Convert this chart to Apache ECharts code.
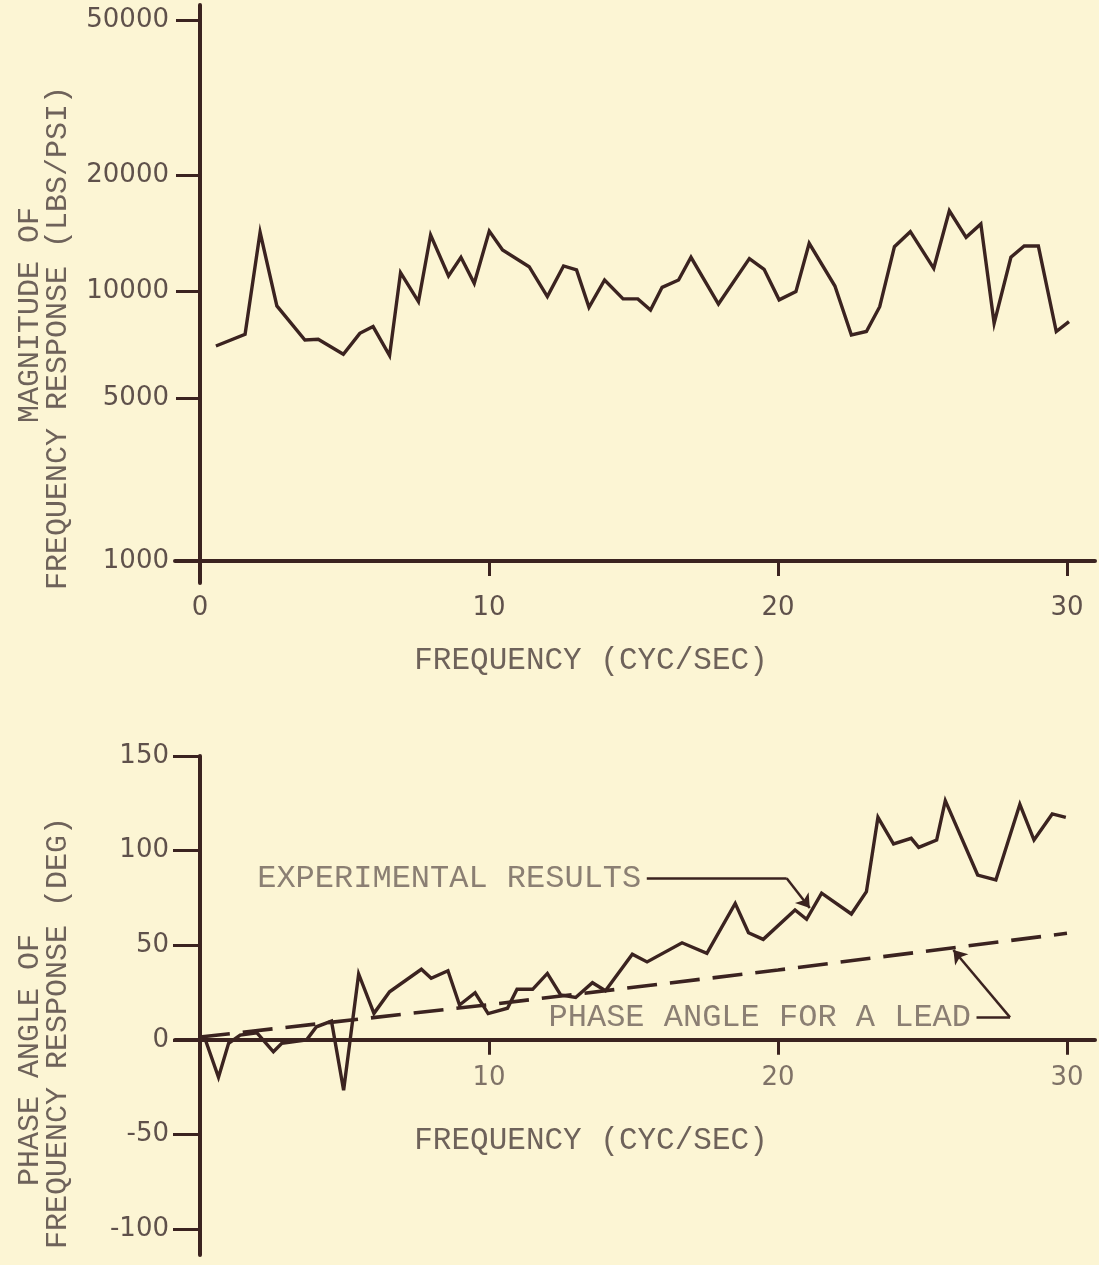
<!DOCTYPE html>
<html>
<head>
<meta charset="utf-8">
<script src="https://cdn.jsdelivr.net/npm/echarts@6/dist/echarts.min.js"></script>
<style>
  html, body { margin: 0; padding: 0; background: #fcf5d4; }
  #chart { width: 1099px; height: 1265px; }
</style>
</head>
<body>
<div id="chart"></div>
<script>
// ---------- DATA ----------
// Magnitude of frequency response (LBS/PSI) vs frequency (CYC/SEC)
const MAG_FREQ = [0.55, 1.56, 2.08, 2.66, 3.63, 4.09, 4.96, 5.53, 5.99, 6.56, 6.94, 7.56, 7.98, 8.6, 9.03, 9.49,
  10.01, 10.47, 11.39, 12.02, 12.58, 13.03, 13.46, 14.0, 14.64, 15.15, 15.59, 15.99, 16.56, 16.99, 17.94,
  19.01, 19.52, 20.04, 20.62, 21.08, 21.97, 22.54, 23.06, 23.52, 24.03, 24.58, 25.39, 25.93, 26.51, 27.02,
  27.48, 28.06, 28.52, 29.01, 29.63, 30.07];
const MAG_VALUES = [7000, 7550, 14200, 9080, 7280, 7310, 6640, 7600, 7940, 6580, 11160, 9330, 13970, 10940, 12230, 10470,
  14300, 12780, 11560, 9640, 11610, 11340, 9000, 10680, 9500, 9500, 8840, 10220, 10680, 12230, 9190,
  12130, 11380, 9440, 9960, 13300, 10300, 7520, 7690, 9030, 13030, 14250, 11450, 16150, 13780, 14930,
  8110, 12230, 13080, 13080, 7690, 8200];

// Phase angle of frequency response (DEG) — experimental results
const PHASE_FREQ = [0.18, 0.64, 0.99, 1.39, 1.97, 2.54, 2.83, 3.69, 4.03, 4.55, 4.97, 5.49, 6.02, 6.56, 7.66, 8.0,
  8.58, 8.98, 9.52, 9.97, 10.64, 10.97, 11.51, 12.02, 12.48, 13.0, 13.58, 14.03, 14.96, 15.47, 16.68, 17.54,
  18.52, 18.98, 19.49, 20.59, 20.99, 21.51, 22.54, 23.06, 23.46, 24.0, 24.61, 24.87, 25.49, 25.79, 26.91,
  27.54, 28.37, 28.86, 29.49, 29.96];
const PHASE_VALUES = [0.3, -19.8, -1.8, 2.5, 3.7, -6.3, -1.8, 0, 6.9, 9.9, -26.6, 34.8, 14.0, 25.4, 37.3, 32.5,
  36.5, 18.4, 24.9, 13.9, 16.7, 26.7, 26.7, 35.1, 23.7, 22.4, 30.2, 26.0, 45.3, 41.2, 51.3, 45.7,
  72.1, 56.6, 53.1, 68.6, 63.7, 77.5, 66.5, 78.3, 117.6, 103.5, 106.5, 101.7, 105.6, 126.4, 87.1,
  84.5, 124.5, 105.6, 119.4, 117.6];

// Phase angle for a lead (dashed)
const LEAD_FREQ = [0, 10, 20, 30];
const LEAD_VALUES = [1.5, 18.6, 36.9, 56.3];

// Tick labels
const FREQ_TICKS_TOP = [0, 10, 20, 30];
const FREQ_TICKS_BOTTOM = [10, 20, 30];
const MAG_TICKS = [1000, 5000, 10000, 20000, 50000];
const PHASE_TICKS = [-100, -50, 0, 50, 100, 150];

// Annotations (in axis units of the phase chart)
const EXP_LABEL = 'EXPERIMENTAL RESULTS';
const LEAD_LABEL = 'PHASE ANGLE FOR A LEAD';
const EXP_LEADER = [[15.46, 85.4], [20.3, 85.4], [21.1, 69.7]];
const LEAD_LEADER = [[26.87, 11.9], [28.03, 11.9], [26.07, 47.5]];

// ---------- Hand-drawn magnitude scale ----------
// relative height of each magnitude tick on the original (non-uniform) axis
const MAG_TICK_POS = [0, 0.3013, 0.4991, 0.7135, 1];
function magToAxis(v) {
  for (let i = 0; i < MAG_TICKS.length - 1; i++) {
    const a = MAG_TICKS[i], b = MAG_TICKS[i + 1];
    if (v <= b || i === MAG_TICKS.length - 2) {
      const t = (Math.log10(v) - Math.log10(a)) / (Math.log10(b) - Math.log10(a));
      return MAG_TICK_POS[i] + t * (MAG_TICK_POS[i + 1] - MAG_TICK_POS[i]);
    }
  }
}
function axisToMagLabel(p) {
  const i = MAG_TICK_POS.findIndex(q => Math.abs(q - p) < 1e-6);
  return i >= 0 ? String(MAG_TICKS[i]) : '';
}

// ---------- Styles ----------
const INK = '#3b2320';
const TEXT = '#6e625a';
const NUM = '#5f514b';
const MONO = '"Liberation Mono", "DejaVu Sans Mono", monospace';
const NUMFONT = '"DejaVu Sans", sans-serif';

const chart = echarts.init(document.getElementById('chart'), null, { renderer: 'canvas' });

function xAxisFor(gridIndex, showLabels) {
  return {
    type: 'value', gridIndex, min: -0.865, max: 30.97,
    axisLine: { onZero: true, lineStyle: { color: INK, width: 4 } },
    axisTick: { show: true, length: 15, lineStyle: { color: INK, width: 3 }, customValues: [10, 20, 30] },
    axisLabel: { show: showLabels, customValues: FREQ_TICKS_TOP, margin: 12, color: NUM, fontFamily: NUMFONT, fontSize: 26,
      hideOverlap: false },
    splitLine: { show: false }
  };
}

const option = {
  backgroundColor: '#fcf5d4',
  animation: false,
  grid: [
    { left: 175, width: 920, top: 5, height: 578, outerBoundsMode: 'none', containLabel: false },
    { left: 175, width: 920, top: 756, height: 499, outerBoundsMode: 'none', containLabel: false }
  ],
  xAxis: [xAxisFor(0, true), xAxisFor(1, false)],
  yAxis: [
    {
      type: 'value', gridIndex: 0, min: -0.0407, max: 1.0277,
      axisLine: { show: true, onZero: true, lineStyle: { color: INK, width: 4 } },
      axisTick: { show: true, length: 24, lineStyle: { color: INK, width: 3 }, customValues: MAG_TICKS.map(magToAxis) },
      axisLabel: { customValues: MAG_TICKS.map(magToAxis), margin: 6, color: NUM, fontFamily: NUMFONT, fontSize: 26,
        hideOverlap: false, formatter: v => axisToMagLabel(v) },
      splitLine: { show: false }
    },
    {
      type: 'value', gridIndex: 1, min: -113.7, max: 150,
      axisLine: { show: true, onZero: true, lineStyle: { color: INK, width: 4 } },
      axisTick: { show: true, length: 27, lineStyle: { color: INK, width: 3 }, customValues: PHASE_TICKS },
      axisLabel: { customValues: PHASE_TICKS, margin: 6, color: NUM, fontFamily: NUMFONT, fontSize: 26, hideOverlap: false },
      splitLine: { show: false }
    }
  ],
  series: [
    {
      type: 'line', xAxisIndex: 0, yAxisIndex: 0, showSymbol: false, symbol: 'none',
      data: MAG_FREQ.map((f, i) => [f, magToAxis(MAG_VALUES[i])]),
      lineStyle: { color: INK, width: 3.4, join: 'miter', miterLimit: 6 }
    },
    {
      type: 'line', xAxisIndex: 1, yAxisIndex: 1, showSymbol: false, symbol: 'none',
      data: PHASE_FREQ.map((f, i) => [f, PHASE_VALUES[i]]),
      lineStyle: { color: INK, width: 3.4, join: 'miter', miterLimit: 6 }
    },
    {
      type: 'line', xAxisIndex: 1, yAxisIndex: 1, showSymbol: false, symbol: 'none',
      data: LEAD_FREQ.map((f, i) => [f, LEAD_VALUES[i]]),
      lineStyle: { color: INK, width: 3.6, type: [30, 13] }
    },
    {
      type: 'lines', coordinateSystem: 'cartesian2d', xAxisIndex: 1, yAxisIndex: 1,
      symbol: ['none', 'none'],
      lineStyle: { color: INK, width: 2.5, opacity: 1 },
      data: [
        { coords: [EXP_LEADER[0], EXP_LEADER[1]] },
        { coords: [LEAD_LEADER[0], LEAD_LEADER[1]] }
      ]
    },
    {
      type: 'lines', coordinateSystem: 'cartesian2d', xAxisIndex: 1, yAxisIndex: 1,
      symbol: ['none', 'arrow'], symbolSize: [0, 13],
      lineStyle: { color: INK, width: 2.5, opacity: 1 },
      data: [
        { coords: [EXP_LEADER[1], EXP_LEADER[2]] },
        { coords: [LEAD_LEADER[1], LEAD_LEADER[2]] }
      ]
    },
    {
      type: 'scatter', xAxisIndex: 1, yAxisIndex: 1, symbolSize: 1,
      itemStyle: { color: 'rgba(0,0,0,0)' },
      label: { show: true, position: 'left', distance: 5, formatter: '{b}', color: TEXT, fontFamily: MONO, fontSize: 32 },
      data: [
        { name: EXP_LABEL, value: EXP_LEADER[0] },
        { name: LEAD_LABEL, value: LEAD_LEADER[0] }
      ]
    },
    {
      // frequency tick labels of the phase chart, hung under its zero line
      type: 'scatter', xAxisIndex: 1, yAxisIndex: 1, symbolSize: 1, silent: true,
      itemStyle: { color: 'rgba(0,0,0,0)' },
      label: { show: true, position: 'bottom', distance: 25, formatter: p => String(p.value[0]),
        color: NUM, fontFamily: NUMFONT, fontSize: 26 },
      data: FREQ_TICKS_BOTTOM.map(f => [f, 0])
    }
  ],
  graphic: [
    { type: 'text', x: 591, y: 661, style: { text: 'FREQUENCY (CYC/SEC)', fill: TEXT, font: '31px ' + MONO, align: 'center', verticalAlign: 'middle' } },
    { type: 'text', x: 591, y: 1141, style: { text: 'FREQUENCY (CYC/SEC)', fill: TEXT, font: '31px ' + MONO, align: 'center', verticalAlign: 'middle' } },
    { type: 'text', x: 30, y: 315, rotation: Math.PI / 2, style: { text: 'MAGNITUDE OF', fill: TEXT, font: '30px ' + MONO, align: 'center', verticalAlign: 'middle' } },
    { type: 'text', x: 58, y: 338, rotation: Math.PI / 2, style: { text: 'FREQUENCY RESPONSE (LBS/PSI)', fill: TEXT, font: '30px ' + MONO, align: 'center', verticalAlign: 'middle' } },
    { type: 'text', x: 30, y: 1060, rotation: Math.PI / 2, style: { text: 'PHASE ANGLE OF', fill: TEXT, font: '30px ' + MONO, align: 'center', verticalAlign: 'middle' } },
    { type: 'text', x: 58, y: 1033, rotation: Math.PI / 2, style: { text: 'FREQUENCY RESPONSE (DEG)', fill: TEXT, font: '30px ' + MONO, align: 'center', verticalAlign: 'middle' } }
  ]
};
chart.setOption(option);
</script>
</body>
</html>
